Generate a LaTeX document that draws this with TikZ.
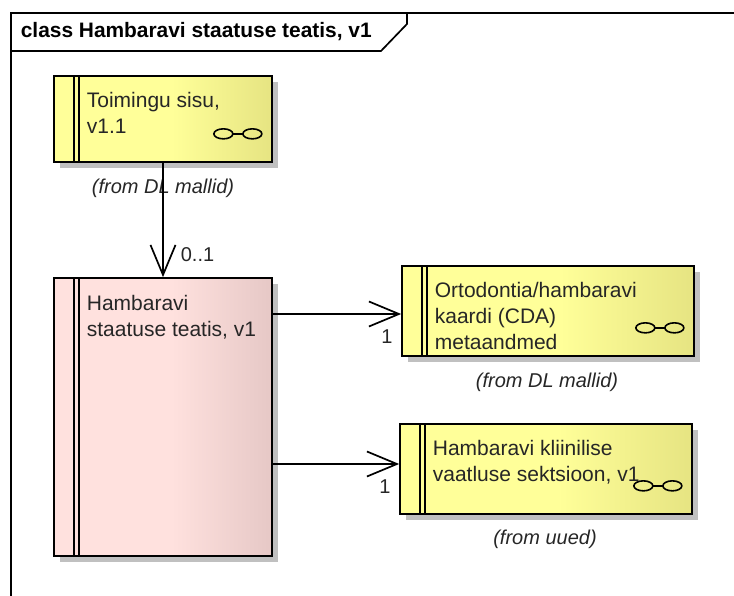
\documentclass[tikz,border=0pt]{standalone}
\usepackage{fontspec}
\setmainfont{Liberation Sans}
\usetikzlibrary{arrows.meta, calc, shadows}

\definecolor{classyellow}{RGB}{255,255,153}
\definecolor{classyellowdark}{RGB}{230,228,130}
\definecolor{classpink}{RGB}{255,225,222}
\definecolor{classpinkdark}{RGB}{230,200,198}
\definecolor{shadowgray}{RGB}{192,192,192}
\pgfdeclarehorizontalshading{yellowfade}{100bp}{
	color(0bp)=(classyellow); color(52bp)=(classyellow); color(75bp)=(classyellowdark); color(100bp)=(classyellowdark)}
\pgfdeclarehorizontalshading{pinkfade}{100bp}{
	color(0bp)=(classpink); color(52bp)=(classpink); color(75bp)=(classpinkdark); color(100bp)=(classpinkdark)}

\begin{document}
\begin{tikzpicture}[
		x=1pt, y=-1pt,
		line width=1.7pt,
		class box/.style={draw=black, minimum width=218pt, inner sep=0pt,
			drop shadow={shadow xshift=6pt, shadow yshift=-6pt, fill=shadowgray, opacity=1}},
		yellow box/.style={class box, shading=yellowfade},
		pink box/.style={class box, shading=pinkfade},
		class name/.style={anchor=north west, align=left, inner sep=0pt, font=\fontsize{21}{26}\selectfont, text=black!85},
		from label/.style={font=\fontsize{20}{22}\selectfont\itshape, inner sep=0pt, text=black!85},
		mult label/.style={font=\fontsize{20}{22}\selectfont, inner sep=0pt, text=black!85},
		assoc/.style={-{Straight Barb[length=30pt, width=25pt, line width=1.7pt]}},
		spectacles/.pic={
			\draw[line width=1.6pt] (-49.5, -29) ellipse (9.5 and 5);
			\draw[line width=1.6pt] (-20.5, -29) ellipse (9.5 and 5);
			\draw[line width=1.6pt] (-40, -29) -- (-30, -29);
		}
		]
	\useasboundingbox (0, 0) rectangle (734, 596);

	% Frame
	\draw (11, 596) -- (11, 13) -- (734, 13);
	\draw (11, 51) -- (381, 51) -- (407, 24) -- (407, 13);
	\node[anchor=west, inner sep=0pt, font=\fontsize{20.9}{24}\selectfont\bfseries] (frametitle) at (20, 32) {class Hambaravi staatuse teatis, v1};

	% Classes
	\node[yellow box, minimum height=86pt] (sisu) at (163, 119) {};
	\node[pink box, minimum height=278pt] (hambaravi) at (163, 417) {};
	\node[yellow box, minimum width=292pt, minimum height=90pt] (orto) at (548, 311) {};
	\node[yellow box, minimum width=292pt, minimum height=90pt] (kliiniline) at (546, 469) {};

	% Double bars
	\foreach \cls in {sisu, hambaravi, orto, kliiniline}{
		\draw ($(\cls.north west)+(20.5, 0)$) -- ($(\cls.south west)+(20.5, 0)$);
		\draw ($(\cls.north west)+(25.5, 0)$) -- ($(\cls.south west)+(25.5, 0)$);
	}

	% Glasses
	\foreach \cls in {sisu, orto, kliiniline}{
		\pic at (\cls.south east) {spectacles};
	}

	% Names
	\node[class name] (sisuname) at (86, 91) {Toimingu sisu,\\v1.1};
	\node[class name] (hambaraviname) at (86, 294) {Hambaravi\\staatuse teatis, v1};
	\node[class name] (ortoname) at (434, 281) {Ortodontia/hambaravi\\kaardi (CDA)\\metaandmed};
	\node[class name] (kliinilinename) at (432, 439) {Hambaravi kliinilise\\vaatluse sektsioon, v1};

	% Packages
	\node[from label] (sisufrom) at (163, 188) {(from DL mallid)};
	\node[from label] (ortofrom) at (547, 382) {(from DL mallid)};
	\node[from label] (kliinilinefrom) at (545, 539) {(from uued)};

	% Associations
	\coordinate (ortoend) at ([yshift=-3pt]orto.west);
	\coordinate (kliinilineend) at ([yshift=5pt]kliiniline.west);
	\draw[assoc] (sisu) -- (hambaravi);
	\draw[assoc] (hambaravi.east |- ortoend) -- (ortoend);
	\draw[assoc] (hambaravi.east |- kliinilineend) -- (kliinilineend);

	% Multiplicities
	\node[mult label] (sisumult) at (197.5, 255) {0..1};
	\node[mult label] (ortomult) at (387, 337) {1};
	\node[mult label] (kliinilinemult) at (385, 487) {1};

\end{tikzpicture}
\end{document}
